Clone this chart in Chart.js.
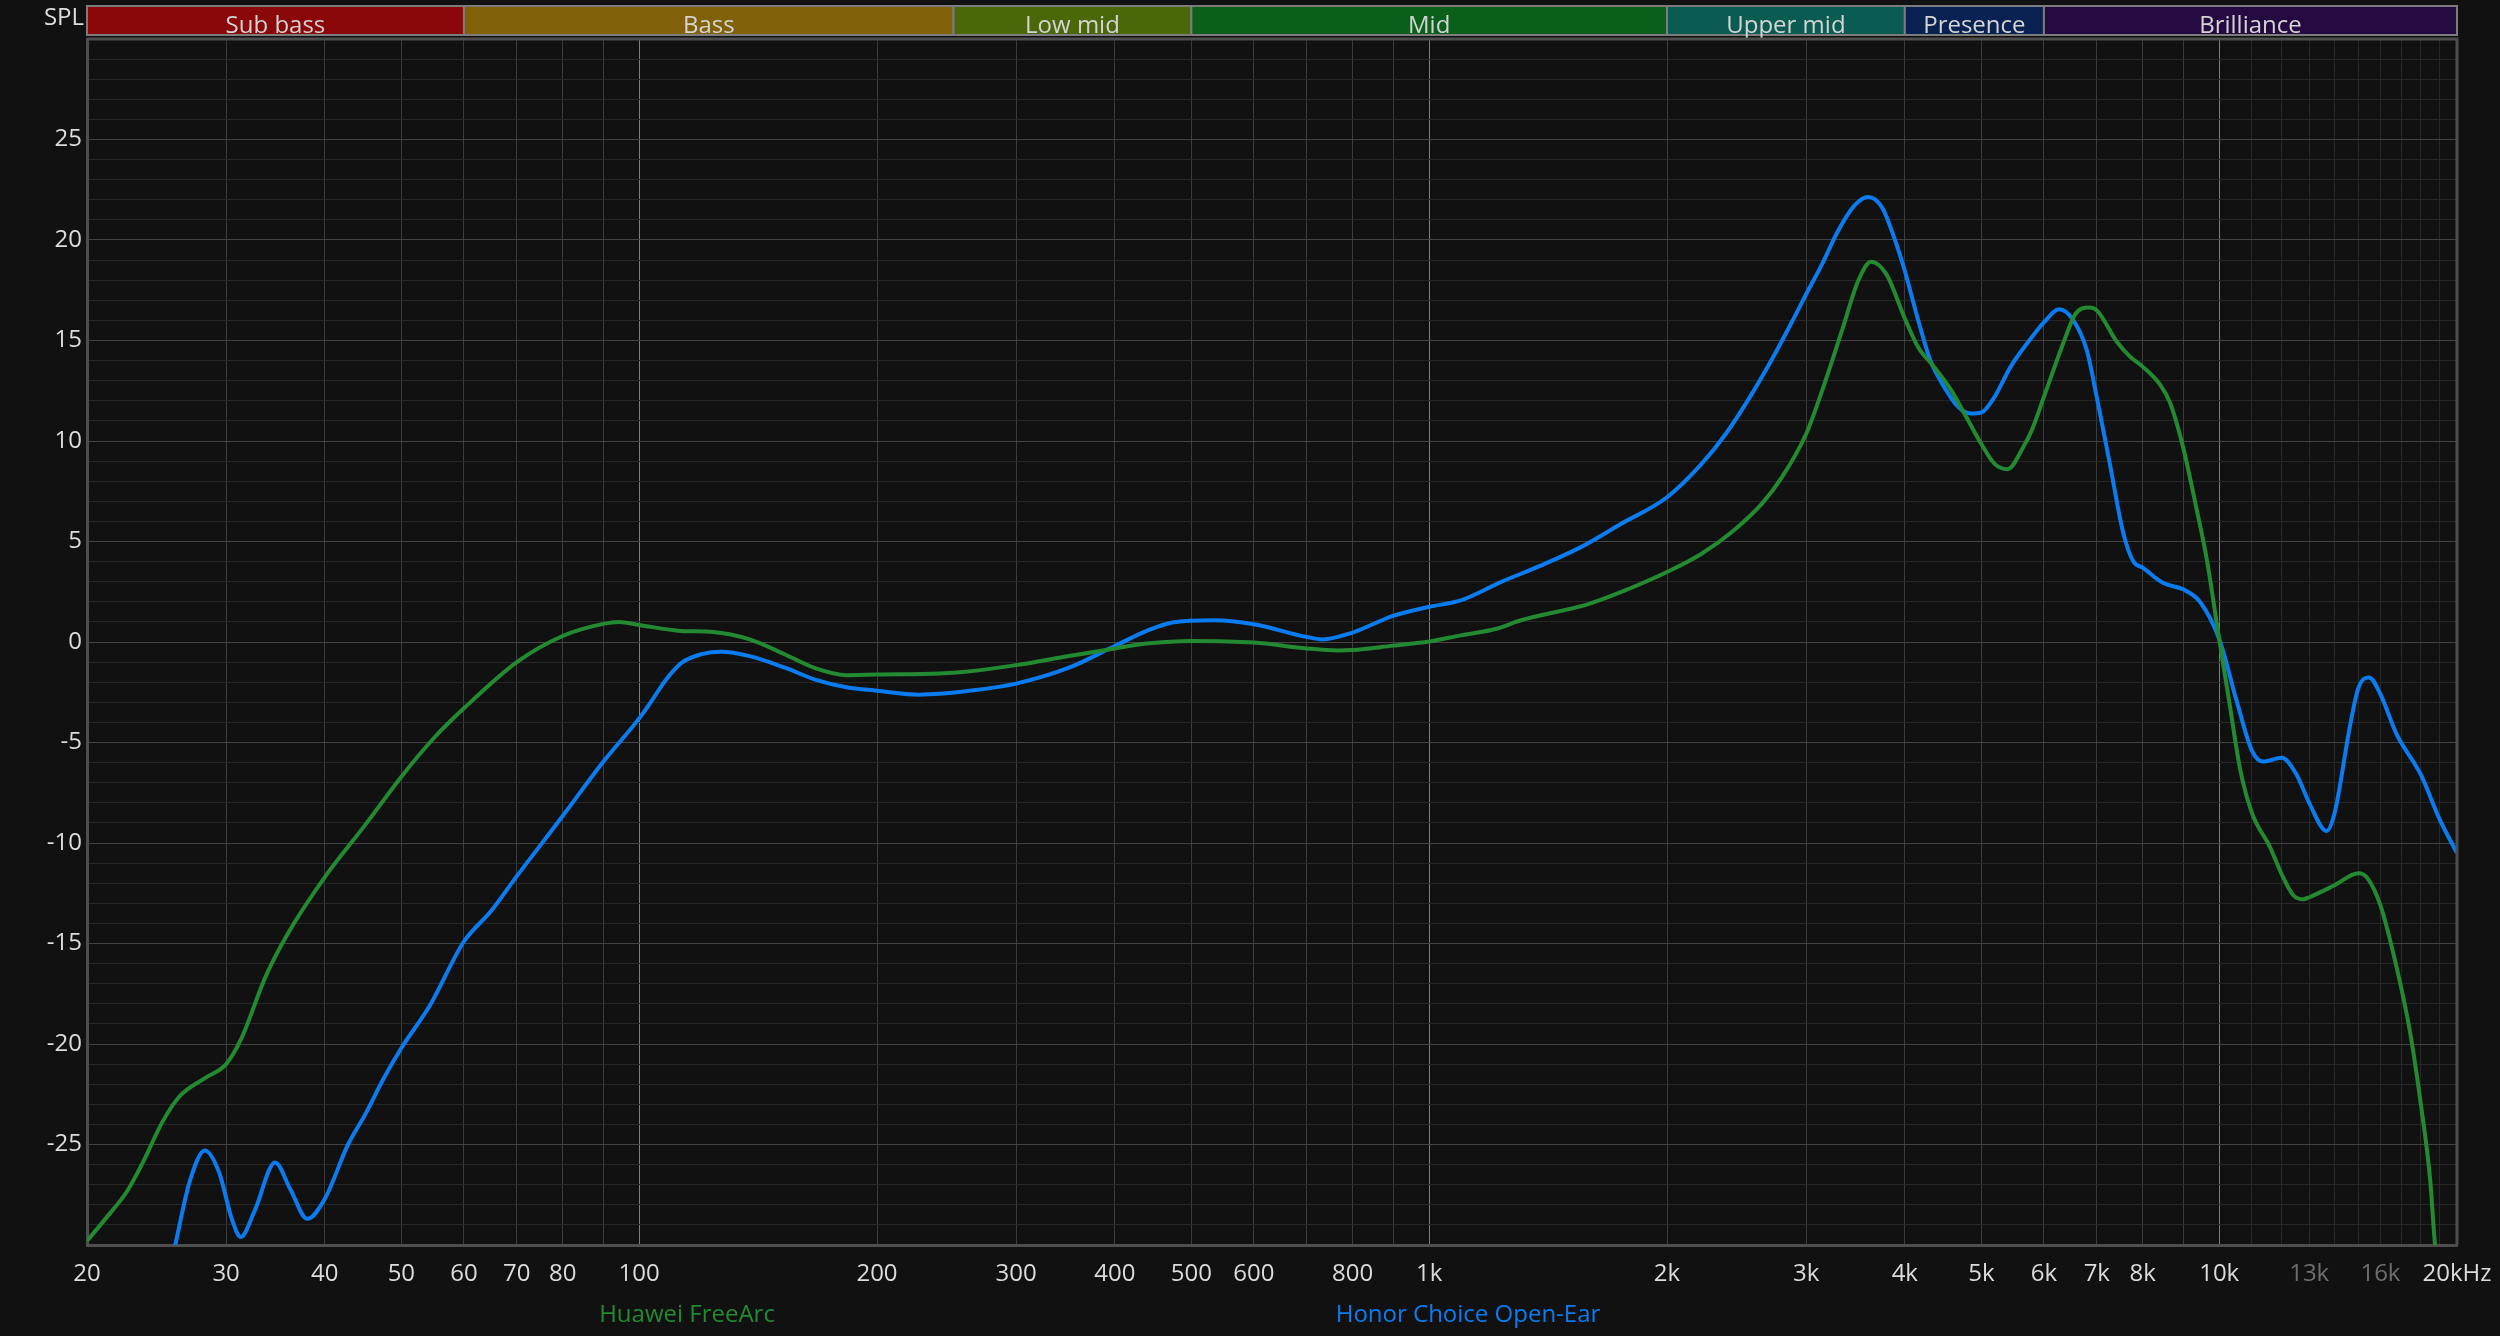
<!DOCTYPE html>
<html>
<head>
<meta charset="utf-8">
<script src="https://cdn.jsdelivr.net/npm/chart.js@4.4.0/dist/chart.umd.min.js"></script>
<style>
    html, body { margin: 0; padding: 0; background: #111111; }
    #wrap { position: relative; width: 2500px; height: 1336px; }
</style>
</head>
<body>
<div id="wrap"><canvas id="frChart"></canvas></div>
<script>
// Huawei FreeArc (green)
var freeArcHz = [20, 21.1, 22.5, 23.6, 24.9, 26.2, 28.2, 30, 31.3, 33.7, 35.8, 40, 45, 50, 54.9, 60, 70, 80, 90, 94.3,
    100, 113, 124, 138, 153, 167, 183, 200, 240, 259, 300, 350, 400, 439, 500, 600, 700, 766, 800, 900,
    1000, 1096, 1217, 1306, 1594, 1791, 2000, 2212, 2429, 2636, 2796, 3000, 3143, 3331, 3491, 3625, 3790, 4000, 4161, 4362,
    4570, 4787, 5000, 5197, 5397, 5650, 5800, 6000, 6360, 6572, 6842, 7000, 7418, 7712, 8000, 8418, 8666, 9000, 9364, 9640,
    10000, 10320, 10626, 11000, 11596, 12000, 12412, 12780, 13000, 14000, 15000, 15374, 16000, 16776, 17440, 18000, 18490, 18758, 19200, 20000];
var freeArcDb = [-29.8, -28.7, -27.3, -25.8, -23.9, -22.6, -21.7, -21.0, -19.8, -16.6, -14.6, -11.7, -9.1, -6.7, -4.8, -3.3, -1.0, 0.3, 0.9, 1.0,
    0.85, 0.55, 0.5, 0.13, -0.62, -1.3, -1.65, -1.62, -1.57, -1.48, -1.15, -0.7, -0.32, -0.08, 0.05, -0.03, -0.32, -0.42, -0.4, -0.18,
    0.02, 0.33, 0.66, 1.08, 1.9, 2.65, 3.48, 4.39, 5.55, 6.87, 8.2, 10.35, 12.5, 15.5, 17.96, 18.92, 18.3, 16.1, 14.65, 13.66,
    12.58, 11.18, 9.85, 8.86, 8.6, 9.7, 10.6, 12.2, 14.95, 16.3, 16.64, 16.5, 14.95, 14.2, 13.7, 12.8, 11.9, 9.7, 6.6, 4.16,
    0.15, -3.2, -6.3, -8.5, -10.2, -11.56, -12.6, -12.8, -12.7, -12.1, -11.5, -11.7, -13.1, -16.2, -19.4, -23.0, -26.7, -30.0, -33.5, -40];

// Honor Choice Open-Ear (blue)
var honorHz = [20, 24, 25.9, 27.0, 28.2, 29.4, 30.5, 31.3, 32.6, 34.6, 36.2, 38.0, 40, 42.8, 45, 47.5, 50, 54.3, 60, 64.9,
    70, 80, 90, 100, 103.4, 108, 113, 120, 127, 138, 153, 167, 183, 200, 226, 240, 259, 300, 350, 400, 439,
    473, 534, 600, 700, 732, 800, 900, 1000, 1096, 1232, 1384, 1556, 1750, 2000, 2212, 2373, 2545, 2731, 2894, 3000,
    3143, 3292, 3451, 3595, 3746, 3879, 4000, 4161, 4311, 4464, 4679, 4844, 5000, 5197, 5446, 5776, 6000, 6274, 6538, 6800,
    7000, 7276, 7564, 7788, 8000, 8498, 9000, 9454, 10000, 10522, 11000, 11372, 12000, 12532, 13000, 13678, 14000, 14644, 15000, 15480,
    16000, 16776, 18000, 19000, 20000];
var honorDb = [-40, -36, -29.9, -26.8, -25.3, -26.4, -28.7, -29.6, -28.3, -25.9, -27.25, -28.7, -27.7, -25.0, -23.5, -21.7, -20.2, -18.1, -14.9, -13.4,
    -11.65, -8.66, -5.97, -3.8, -3.0, -1.9, -1.05, -0.6, -0.48, -0.7, -1.28, -1.87, -2.25, -2.42, -2.62, -2.58, -2.45, -2.07, -1.28, -0.2, 0.55,
    0.97, 1.08, 0.88, 0.25, 0.13, 0.47, 1.3, 1.75, 2.07, 2.98, 3.8, 4.72, 5.88, 7.2, 8.86, 10.35, 12.17, 14.24, 16.1, 17.3,
    18.8, 20.45, 21.7, 22.14, 21.6, 20.1, 18.46, 15.98, 13.99, 12.83, 11.67, 11.37, 11.42, 12.2, 13.7, 15.1, 15.9, 16.55, 16.0, 14.5,
    12.17, 8.8, 5.4, 4.0, 3.7, 2.93, 2.62, 2.0, 0.15, -2.93, -5.4, -5.95, -5.76, -6.6, -8.0, -9.4, -8.5, -4.16, -2.3, -1.76,
    -2.6, -4.6, -6.6, -8.8, -10.5];

var xLabelValues = [20, 30, 40, 50, 60, 70, 80, 100, 200, 300, 400, 500, 600, 800, 1000, 2000, 3000, 4000, 5000, 6000, 7000, 8000, 10000, 13000, 16000, 20000];
var xLabelTexts = ['20', '30', '40', '50', '60', '70', '80', '100', '200', '300', '400', '500', '600', '800', '1k', '2k', '3k', '4k', '5k', '6k', '7k', '8k', '10k', '13k', '16k', '20kHz'];
var xDimLabels = [13000, 16000];

var bandEdges = [20, 60, 250, 500, 2000, 4000, 6000, 20000];
var bandNames = ['Sub bass', 'Bass', 'Low mid', 'Mid', 'Upper mid', 'Presence', 'Brilliance'];
var bandColors = ['#8b080a', '#806008', '#4a680a', '#0a601a', '#0a5c52', '#0a2252', '#240a40'];

var FONT = '"Open Sans", sans-serif';

// grid lines at every 1-2-3...9 step of each decade, 1k steps above 10k
var xGridValues = [];
[10, 100, 1000].forEach(function (d) {
    for (var m = 2; m <= 10; m++) xGridValues.push(m * d);
});
for (var k = 11000; k <= 20000; k += 1000) xGridValues.push(k);
xGridValues = xGridValues.filter(function (v, i, a) { return a.indexOf(v) === i; });

function toPoints(hz, db) {
    return hz.map(function (f, i) { return { x: f, y: db[i] }; });
}

var overlay = {
    id: 'overlay',
    afterDraw: function (chart) {
        var ctx = chart.ctx, xs = chart.scales.x, area = chart.chartArea;
        ctx.save();
        // band header
        var top = 6, h = 29;
        ctx.font = '24px ' + FONT;
        ctx.textAlign = 'center';
        ctx.textBaseline = 'alphabetic';
        for (var i = 0; i < bandNames.length; i++) {
            var x0 = xs.getPixelForValue(bandEdges[i]);
            var x1 = xs.getPixelForValue(bandEdges[i + 1]);
            ctx.fillStyle = bandColors[i];
            ctx.fillRect(x0, top, x1 - x0, h);
            ctx.strokeStyle = '#7c7c7c';
            ctx.lineWidth = 2;
            ctx.strokeRect(x0, top, x1 - x0, h);
            ctx.fillStyle = '#d4d4d4';
            ctx.fillText(bandNames[i], (x0 + x1) / 2, 33);
        }
        // SPL label
        ctx.textAlign = 'right';
        ctx.fillStyle = '#dddddd';
        ctx.fillText('SPL', 84, 25);
        // top and right frame
        ctx.strokeStyle = '#4e4e4e';
        ctx.lineWidth = 3;
        ctx.beginPath();
        ctx.moveTo(area.left, area.top);
        ctx.lineTo(area.right, area.top);
        ctx.lineTo(area.right, area.bottom);
        ctx.stroke();
        // series names under the axis
        ctx.textAlign = 'center';
        ctx.font = '24px ' + FONT;
        chart.data.datasets.forEach(function (ds, j) {
            ctx.fillStyle = ds.borderColor;
            ctx.fillText(ds.label, j === 0 ? 687 : 1468, 1322);
        });
        ctx.restore();
    }
};

var ctx = document.getElementById('frChart').getContext('2d');
var frChart = new Chart(ctx, {
    type: 'line',
    data: {
        datasets: [{
            label: 'Huawei FreeArc',
            data: toPoints(freeArcHz, freeArcDb),
            borderColor: '#238a32',
            borderWidth: 4,
            pointRadius: 0,
            cubicInterpolationMode: 'monotone',
            fill: false
        }, {
            label: 'Honor Choice Open-Ear',
            data: toPoints(honorHz, honorDb),
            borderColor: '#0a7cf0',
            borderWidth: 4,
            pointRadius: 0,
            cubicInterpolationMode: 'monotone',
            fill: false
        }]
    },
    options: {
        responsive: true,
        maintainAspectRatio: false,
        animation: false,
        layout: { padding: { top: 39, right: 43, bottom: 0, left: 0 } },
        plugins: {
            legend: { display: false },
            tooltip: { enabled: false }
        },
        scales: {
            x: {
                type: 'logarithmic',
                min: 20,
                max: 20000,
                afterBuildTicks: function (scale) {
                    scale.ticks = xGridValues.map(function (v) { return { value: v }; });
                },
                afterFit: function (scale) {
                    scale.height = 91;
                    scale.paddingLeft = 0;
                    scale.paddingRight = 0;
                },
                grid: {
                    drawTicks: false,
                    lineWidth: 1,
                    color: function (c) {
                        var v = c.tick && c.tick.value;
                        if (v === 100 || v === 1000 || v === 10000) return '#7e7e7e';
                        if (v > 10000) return '#282828';
                        return '#3c3c3c';
                    }
                },
                border: { color: '#4e4e4e', width: 3 },
                ticks: {
                    autoSkip: false,
                    maxRotation: 0,
                    padding: 15,
                    font: { family: FONT, size: 24 },
                    color: function (c) {
                        return xDimLabels.indexOf(c.tick.value) >= 0 ? '#6e6e6e' : '#dcdcdc';
                    },
                    callback: function (value) {
                        var i = xLabelValues.indexOf(value);
                        return i >= 0 ? xLabelTexts[i] : '';
                    }
                }
            },
            y: {
                min: -30,
                max: 30,
                afterFit: function (scale) { scale.width = 87; },
                grid: {
                    drawTicks: false,
                    color: function (c) {
                        var v = c.tick && c.tick.value;
                        return v % 5 === 0 ? '#444444' : '#262626';
                    }
                },
                border: { color: '#4e4e4e', width: 3 },
                ticks: {
                    stepSize: 1,
                    autoSkip: false,
                    padding: 5,
                    font: { family: FONT, size: 24 },
                    color: '#dcdcdc',
                    callback: function (value) {
                        return (value % 5 === 0 && Math.abs(value) < 30) ? String(value) : '';
                    }
                }
            }
        }
    },
    plugins: [overlay]
});
</script>
</body>
</html>
